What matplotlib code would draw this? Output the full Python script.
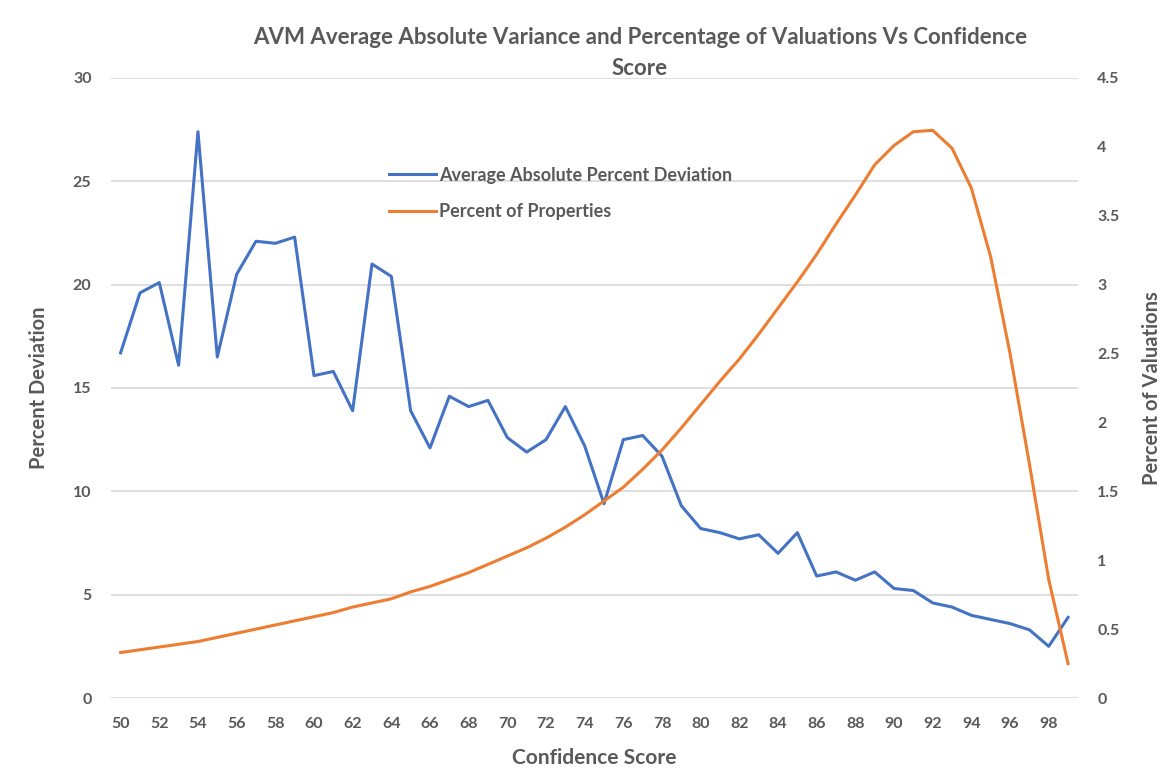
import numpy as np
import matplotlib.pyplot as plt

plt.rcParams['font.family'] = ['Lato', 'DejaVu Sans']

# Confidence score (x axis)
scores = list(range(50, 100))

# Average absolute percent deviation (left axis)
avg_abs_dev = [16.7, 19.6, 20.1, 16.1, 27.4, 16.5, 20.5, 22.1, 22.0, 22.3,
               15.6, 15.8, 13.9, 21.0, 20.4, 13.9, 12.1, 14.6, 14.1, 14.4,
               12.6, 11.9, 12.5, 14.1, 12.2, 9.4, 12.5, 12.7, 11.7, 9.3,
               8.2, 8.0, 7.7, 7.9, 7.0, 8.0, 5.9, 6.1, 5.7, 6.1,
               5.3, 5.2, 4.6, 4.4, 4.0, 3.8, 3.6, 3.3, 2.5, 3.9]

# Percent of properties (right axis)
pct_properties = [0.33, 0.35, 0.37, 0.39, 0.41, 0.44, 0.47, 0.50, 0.53, 0.56,
                  0.59, 0.62, 0.66, 0.69, 0.72, 0.77, 0.81, 0.86, 0.91, 0.97,
                  1.03, 1.09, 1.16, 1.24, 1.33, 1.43, 1.53, 1.66, 1.80, 1.96,
                  2.13, 2.30, 2.46, 2.64, 2.83, 3.02, 3.22, 3.44, 3.65, 3.87,
                  4.01, 4.11, 4.12, 3.99, 3.70, 3.20, 2.50, 1.70, 0.86, 0.25]
right_labels = ['0', '0.5', '1', '1.5', '2', '2.5', '3', '3.5', '4', '4.5']

blue = '#4472C4'
orange = '#ED7D31'
txt = '#595959'

fig = plt.figure(figsize=(11.74, 7.82), dpi=100)
ax = fig.add_axes([0.0945, 0.1074, 0.8235, 0.7929])
ax2 = ax.twinx()

l1, = ax.plot(scores, avg_abs_dev, color=blue, lw=2.2,
              label='Average Absolute Percent Deviation')
l2, = ax2.plot(scores, pct_properties, color=orange, lw=2.2,
               label='Percent of Properties')

# left axis
ax.set_xlim(49.5, 99.5)
ax.set_ylim(0, 30)
ax.set_yticks(np.arange(0, 31, 5))
ax.set_xticks(range(50, 99, 2))
ax.grid(axis='y', color='#D9D9D9', lw=1.2)
ax.set_axisbelow(True)

# right axis
ax2.set_ylim(0, 4.5)
ax2.set_yticks(np.arange(0, 4.51, 0.5))
ax2.set_yticklabels(right_labels)

for a in (ax, ax2):
    for s in a.spines.values():
        s.set_visible(False)
    a.tick_params(length=0, labelsize=11.5, colors=txt, pad=14)
    for lab in a.get_xticklabels() + a.get_yticklabels():
        lab.set_fontweight('bold')

ax.set_xlabel('Confidence Score', fontsize=15, fontweight='bold', color=txt, labelpad=12)
ax.set_ylabel('Percent Deviation', fontsize=14.5, fontweight='bold', color=txt, labelpad=17)
ax2.set_ylabel('Percent of Valuations', fontsize=14.5, fontweight='bold', color=txt, labelpad=16)

fig.text(0.545, 0.965, 'AVM Average Absolute Variance and Percentage of Valuations Vs Confidence\nScore',
         ha='center', va='top', fontsize=16, fontweight='bold', color=txt, linespacing=1.55)

ax.legend(handles=[l1, l2], loc='upper left', bbox_to_anchor=(0.288, 0.857),
          frameon=False, fontsize=13, handlelength=2.6, handletextpad=0.15,
          labelspacing=1.1, borderpad=0, borderaxespad=0, labelcolor=txt,
          prop={'weight': 'bold', 'size': 13})

fig.savefig('out.png', dpi=100)
